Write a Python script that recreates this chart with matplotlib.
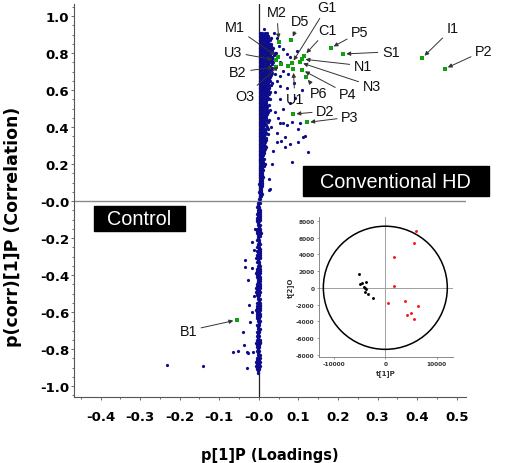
import numpy as np
import matplotlib.pyplot as plt
from matplotlib.patches import Ellipse, Rectangle

plt.rcParams['font.family'] = ['Liberation Sans', 'DejaVu Sans']
plt.rcParams['axes.unicode_minus'] = False

# ---- main loading plot data ----
# dense band, positive side: one y level per row, x values in the row
band_pos_y = [0.91, 0.89, 0.87, 0.85, 0.83, 0.81, 0.79, 0.77, 0.75, 0.73, 0.71, 0.69,
              0.67, 0.65, 0.63, 0.61, 0.59, 0.57, 0.55, 0.53, 0.51, 0.49, 0.47, 0.45,
              0.43, 0.41, 0.39, 0.37, 0.35, 0.33, 0.31, 0.29, 0.27, 0.25, 0.23, 0.21,
              0.19, 0.17, 0.15, 0.13, 0.11, 0.09, 0.07, 0.05, 0.03, 0.01]
band_pos_x = [
    [0.004, 0.009, 0.016],
    [0.002, 0.007, 0.012, 0.018, 0.024],
    [0.003, 0.008, 0.014, 0.020, 0.027],
    [0.002, 0.007, 0.013, 0.019, 0.025, 0.031],
    [0.003, 0.009, 0.015, 0.021, 0.028, 0.036],
    [0.002, 0.008, 0.013, 0.019, 0.025, 0.032],
    [0.003, 0.009, 0.015, 0.022, 0.029, 0.037],
    [0.002, 0.007, 0.013, 0.019, 0.026, 0.033],
    [0.003, 0.008, 0.014, 0.021, 0.028, 0.035],
    [0.002, 0.008, 0.014, 0.020, 0.027, 0.040],
    [0.003, 0.009, 0.015, 0.022, 0.030],
    [0.002, 0.007, 0.013, 0.019, 0.026, 0.034],
    [0.003, 0.008, 0.014, 0.021, 0.029],
    [0.002, 0.008, 0.014, 0.020, 0.027],
    [0.003, 0.009, 0.015, 0.022, 0.031],
    [0.002, 0.007, 0.013, 0.019, 0.025],
    [0.003, 0.008, 0.014, 0.021, 0.028],
    [0.002, 0.008, 0.014, 0.020],
    [0.003, 0.009, 0.015, 0.022, 0.029],
    [0.002, 0.007, 0.013, 0.019],
    [0.003, 0.008, 0.014, 0.021],
    [0.002, 0.008, 0.014, 0.020, 0.027],
    [0.003, 0.009, 0.015, 0.021],
    [0.002, 0.007, 0.013, 0.019],
    [0.003, 0.008, 0.014, 0.022],
    [0.002, 0.008, 0.013, 0.018],
    [0.003, 0.009, 0.015, 0.024],
    [0.002, 0.007, 0.012, 0.018],
    [0.003, 0.008, 0.014],
    [0.002, 0.007, 0.012, 0.019],
    [0.003, 0.008, 0.013],
    [0.002, 0.007, 0.012, 0.017],
    [0.003, 0.008, 0.013],
    [0.002, 0.006, 0.011],
    [0.003, 0.007, 0.012],
    [0.002, 0.006, 0.010],
    [0.003, 0.007, 0.013],
    [0.002, 0.006, 0.010],
    [0.003, 0.007],
    [0.002, 0.006, 0.011],
    [0.003, 0.007],
    [0.001, 0.005, 0.009],
    [0.002, 0.006],
    [0.001, 0.005],
    [0.002, 0.005],
    [0.001, 0.004],
]
# second, interleaved set of rows of the same band
band_pos_y2 = [0.90, 0.88, 0.86, 0.84, 0.82, 0.80, 0.78, 0.76, 0.74, 0.72, 0.70, 0.68,
               0.66, 0.64, 0.62, 0.60, 0.58, 0.56, 0.54, 0.52, 0.50, 0.48, 0.46, 0.44,
               0.42, 0.40, 0.38, 0.36, 0.34, 0.32, 0.30, 0.28, 0.26, 0.24, 0.22, 0.20,
               0.18, 0.16, 0.14, 0.12, 0.10, 0.08, 0.06, 0.04, 0.02]
band_pos_x2 = [
    [0.006, 0.012, 0.020],
    [0.005, 0.010, 0.016, 0.022, 0.030],
    [0.005, 0.011, 0.017, 0.024],
    [0.005, 0.011, 0.017, 0.023, 0.030],
    [0.006, 0.012, 0.018, 0.025, 0.032],
    [0.005, 0.011, 0.017, 0.023, 0.029, 0.041],
    [0.005, 0.012, 0.018, 0.025, 0.033],
    [0.006, 0.011, 0.017, 0.024, 0.031],
    [0.005, 0.011, 0.017, 0.024, 0.032],
    [0.005, 0.012, 0.018, 0.025, 0.034],
    [0.006, 0.012, 0.018, 0.026],
    [0.005, 0.011, 0.017, 0.024, 0.031],
    [0.005, 0.011, 0.017, 0.025],
    [0.006, 0.012, 0.018, 0.024, 0.033],
    [0.005, 0.011, 0.017, 0.026],
    [0.005, 0.011, 0.017, 0.023],
    [0.006, 0.012, 0.018, 0.025],
    [0.005, 0.011, 0.017, 0.024],
    [0.005, 0.011, 0.017],
    [0.006, 0.012, 0.018, 0.026],
    [0.005, 0.011, 0.017],
    [0.005, 0.011, 0.017, 0.023],
    [0.006, 0.012, 0.018],
    [0.005, 0.011, 0.017, 0.025],
    [0.005, 0.011, 0.016],
    [0.006, 0.011, 0.020],
    [0.005, 0.010, 0.015],
    [0.005, 0.010, 0.016, 0.022],
    [0.005, 0.011, 0.017],
    [0.005, 0.010, 0.015],
    [0.005, 0.010, 0.016],
    [0.005, 0.010, 0.015],
    [0.004, 0.009, 0.014],
    [0.005, 0.009],
    [0.004, 0.009],
    [0.005, 0.009, 0.016],
    [0.004, 0.008],
    [0.005, 0.009],
    [0.004, 0.008],
    [0.005, 0.009],
    [0.003, 0.007],
    [0.004, 0.008],
    [0.003, 0.006],
    [0.003, 0.007],
    [0.003],
]

# dense band, negative side
band_neg_y = [-0.01, -0.03, -0.05, -0.07, -0.09, -0.11, -0.13, -0.15, -0.17, -0.19,
              -0.21, -0.23, -0.25, -0.27, -0.29, -0.31, -0.33, -0.35, -0.37, -0.39,
              -0.41, -0.43, -0.45, -0.47, -0.49, -0.51, -0.53, -0.55, -0.57, -0.59,
              -0.61, -0.63, -0.65, -0.67, -0.69, -0.71, -0.73, -0.75, -0.77, -0.79,
              -0.81, -0.83, -0.85, -0.87, -0.89, -0.91, -0.93]
band_neg_x = [
    [-0.003, 0.002], [-0.004, 0.001], [-0.003, 0.002], [-0.005, 0.000, 0.004],
    [-0.006, -0.001, 0.004], [-0.004, 0.001], [-0.003, 0.002], [-0.006, -0.001, 0.004],
    [-0.005, 0.000, 0.005], [-0.003, 0.002], [-0.004, 0.001], [-0.003, 0.002],
    [-0.004, 0.001], [-0.005, 0.000, 0.004], [-0.006, -0.001, 0.004], [-0.003, 0.002],
    [-0.004, 0.001], [-0.003, 0.002], [-0.006, -0.001, 0.004], [-0.007, -0.002, 0.003],
    [-0.005, 0.000, 0.004], [-0.003, 0.002], [-0.006, -0.001, 0.004], [-0.007, -0.002, 0.003],
    [-0.008, -0.003, 0.002], [-0.004, 0.001], [-0.003, 0.002], [-0.005, 0.000, 0.004],
    [-0.006, -0.001, 0.004], [-0.007, -0.002, 0.003], [-0.006, -0.001, 0.004], [-0.004, 0.001],
    [-0.003, 0.002], [-0.004, 0.001], [-0.003, 0.002], [-0.005, 0.000],
    [-0.004, 0.001], [-0.006, -0.001, 0.004], [-0.007, -0.002, 0.003], [-0.005, 0.000],
    [-0.004, 0.001], [-0.003, 0.002], [-0.006, -0.001, 0.003], [-0.007, -0.002, 0.003],
    [-0.008, -0.003, 0.002], [-0.005, 0.000], [-0.002],
]
band_neg_y2 = [-0.02, -0.04, -0.06, -0.08, -0.10, -0.12, -0.14, -0.16, -0.18, -0.20,
               -0.22, -0.24, -0.26, -0.28, -0.30, -0.32, -0.34, -0.36, -0.38, -0.40,
               -0.42, -0.44, -0.46, -0.48, -0.50, -0.52, -0.54, -0.56, -0.58, -0.60,
               -0.62, -0.64, -0.66, -0.68, -0.70, -0.72, -0.74, -0.76, -0.78, -0.80,
               -0.82, -0.84, -0.86, -0.88, -0.90, -0.92]
band_neg_x2 = [
    [-0.001], [0.000], [-0.001, 0.004], [-0.003, 0.002], [-0.004, 0.002], [-0.001],
    [0.000], [-0.004, 0.002], [-0.003, 0.003], [-0.001], [0.000], [-0.001],
    [0.000, 0.004], [-0.003, 0.002], [-0.004, 0.002], [-0.001], [0.000], [-0.001],
    [-0.004, 0.002], [-0.005, 0.001], [-0.003, 0.002], [-0.001], [-0.004, 0.002],
    [-0.005, 0.001], [-0.006, 0.000], [-0.001], [0.000], [-0.003, 0.002],
    [-0.004, 0.002], [-0.005, 0.001], [-0.004, 0.002], [-0.001], [0.000], [-0.001],
    [0.000], [-0.002], [-0.001], [-0.004, 0.002], [-0.005, 0.001], [-0.002],
    [-0.001], [0.000], [-0.004, 0.001], [-0.005, 0.001], [-0.006, 0.000], [-0.002],
]

# scattered variables away from the band
scatter_x = [0.013, 0.021, 0.039, 0.051, 0.061, 0.042, 0.095, 0.070, 0.078, 0.053,
             0.061, 0.053, 0.040, 0.074, 0.045, 0.053, 0.070, 0.040, 0.053, 0.078,
             0.091, 0.061, 0.040, 0.049, 0.070, 0.099, 0.116, 0.045, 0.053, 0.045,
             0.061, 0.083, 0.104, 0.111, 0.066, 0.057, 0.078, 0.098, 0.066, 0.124,
             0.083, 0.028, 0.026, 0.035, 0.030, 0.032, 0.025, 0.110, 0.088, 0.046,
             -0.018, -0.012, -0.034, -0.008, -0.035, -0.017, -0.027, -0.012, -0.018, -0.023,
             -0.040, -0.037, -0.031, -0.027, -0.065, -0.054, -0.014, -0.031, -0.232, -0.142,
             -0.024, -0.010]
scatter_y = [0.930, 0.910, 0.908, 0.840, 0.820, 0.800, 0.810, 0.795, 0.777, 0.750,
             0.704, 0.677, 0.686, 0.686, 0.650, 0.620, 0.610, 0.590, 0.550, 0.530,
             0.560, 0.500, 0.480, 0.450, 0.410, 0.390, 0.350, 0.370, 0.420, 0.317,
             0.420, 0.425, 0.420, 0.346, 0.345, 0.326, 0.308, 0.319, 0.292, 0.265,
             0.209, 0.065, 0.060, 0.270, 0.400, 0.200, 0.120, 0.600, 0.640, 0.880,
             -0.223, -0.263, -0.317, -0.310, -0.359, -0.362, -0.427, -0.512, -0.602, -0.656,
             -0.706, -0.778, -0.818, -0.820, -0.818, -0.809, -0.818, -0.900, -0.886, -0.890,
             -0.560, -0.150]

# highlighted (green) variables
green_names = ['M2', 'D5', 'C1', 'N1', 'N3', 'G1', 'U1', 'P4', 'P6', 'M1', 'U3',
               'O3', 'B2', 'P5', 'S1', 'D2', 'P3', 'I1', 'P2', 'B1', '']
green_x = [0.0505, 0.082, 0.114, 0.109, 0.1035, 0.083, 0.087, 0.1085, 0.118, 0.048,
           0.043, 0.0556, 0.044, 0.181, 0.212, 0.086, 0.121, 0.412, 0.469, -0.056, 0.073]
green_y = [0.861, 0.872, 0.786, 0.768, 0.750, 0.744, 0.712, 0.710, 0.670, 0.778,
           0.762, 0.740, 0.726, 0.827, 0.795, 0.470, 0.425, 0.773, 0.715, -0.643, 0.730]
# where each label text sits
label_x = [0.045, 0.1035, 0.174, 0.263, 0.285, 0.171, 0.091, 0.225, 0.152, -0.061,
           -0.066, -0.035, -0.053, 0.255, 0.333, 0.168, 0.230, 0.489, 0.568, -0.1785, None]
label_y = [1.02, 0.975, 0.926, 0.731, 0.622, 1.047, 0.551, 0.578, 0.584, 0.941,
           0.805, 0.568, 0.697, 0.914, 0.807, 0.486, 0.454, 0.934, 0.812, -0.701, None]

x_ticks = [-0.4, -0.3, -0.2, -0.1, 0.0, 0.1, 0.2, 0.3, 0.4, 0.5]
x_ticklabels = ['-0.4', '-0.3', '-0.2', '-0.1', '-0.0', '0.1', '0.2', '0.3', '0.4', '0.5']
y_ticks = [-1.0, -0.8, -0.6, -0.4, -0.2, 0.0, 0.2, 0.4, 0.6, 0.8, 1.0]
y_ticklabels = ['-1.0', '-0.8', '-0.6', '-0.4', '-0.2', '-0.0', '0.2', '0.4', '0.6', '0.8', '1.0']

# ---- inset score plot data ----
hd_t1 = [5970, 5650, 1750, 1690, 450, 3830, 6430, 5060, 4220, 5580]
hd_t2 = [6720, 5360, 3640, 200, -1800, -1520, -2160, -3000, -3240, -3720]
ctrl_t1 = [-5190, -4935, -4545, -3766, -4156, -3900, -3700, -4026, -3311, -2400]
ctrl_t2 = [1600, 480, 520, 680, 120, -80, -160, -560, -760, -1280]

# flatten the band rows
bx, by = [], []
for yv, row in zip(band_pos_y + band_pos_y2 + band_neg_y + band_neg_y2,
                   band_pos_x + band_pos_x2 + band_neg_x + band_neg_x2):
    bx += row
    by += [yv] * len(row)

fig = plt.figure(figsize=(5.12, 4.64), dpi=100)
ax = fig.add_axes([0.1445, 0.142, 0.7656, 0.847])

ax.axvline(0, color='#222222', lw=0.9, zorder=1)
ax.axhline(0, color='#8a8a8a', lw=1.0, zorder=1)

blue = '#0c0c8c'
ax.plot(bx, by, 'o', color=blue, ms=2.4, mew=0, zorder=2)
ax.plot(scatter_x, scatter_y, 'o', color=blue, ms=2.3, mew=0, zorder=2)
ax.plot(green_x, green_y, 's', color='#12a012', ms=3.0, mew=0, zorder=4)

for name, gx, gy, tx, ty in zip(green_names, green_x, green_y, label_x, label_y):
    if not name:
        continue
    ax.annotate(name, xy=(gx, gy), xytext=(tx, ty), ha='center', va='center',
                fontsize=10.4, color='#111111', zorder=5, annotation_clip=False,
                arrowprops=dict(arrowstyle='-|>', color='#333333', lw=0.7,
                                mutation_scale=6, shrinkA=1, shrinkB=2.5))

# group boxes
ax.add_patch(Rectangle((0.111, 0.027), 0.470, 0.162, color='black', zorder=3,
                       clip_on=False))
ax.text(0.346, 0.108, 'Conventional HD', color='white', fontsize=14.3,
        ha='center', va='center', zorder=4, clip_on=False)
ax.add_patch(Rectangle((-0.417, -0.162), 0.230, 0.135, color='black', zorder=3))
ax.text(-0.302, -0.094, 'Control', color='white', fontsize=14.3,
        ha='center', va='center', zorder=4)

ax.set_xlim(-0.467, 0.523)
ax.set_ylim(-1.06, 1.065)
for s in ['top', 'right']:
    ax.spines[s].set_visible(False)
for s in ['left', 'bottom']:
    ax.spines[s].set_color('#555555')
    ax.spines[s].set_linewidth(0.8)

ax.set_xticks(x_ticks)
ax.set_xticklabels(x_ticklabels)
ax.set_yticks(y_ticks)
ax.set_yticklabels(y_ticklabels)
ax.set_xticks(np.arange(-0.45, 0.52, 0.05), minor=True)
ax.set_yticks(np.arange(-1.05, 1.06, 0.05), minor=True)
ax.tick_params(axis='both', which='major', length=2.5, width=0.6, color='#555555')
ax.tick_params(axis='both', which='minor', length=1.5, width=0.6, color='#555555')
ax.tick_params(axis='x', pad=6.5)
ax.tick_params(axis='y', pad=1)
for lab in ax.get_xticklabels() + ax.get_yticklabels():
    lab.set_fontfamily('DejaVu Sans')
    lab.set_fontweight('bold')
    lab.set_fontsize(9.5)

ax.set_xlabel('p[1]P (Loadings)', fontfamily='DejaVu Sans', fontweight='bold', fontsize=10.5)
ax.set_ylabel('p(corr)[1]P (Correlation)', fontfamily='DejaVu Sans', fontweight='bold',
              fontsize=12.5)
ax.xaxis.set_label_coords(0.5, -0.127)
ax.yaxis.set_label_coords(-0.133, 0.435)

# ---- inset ----
ins = fig.add_axes([0.623, 0.2278, 0.2617, 0.3024])
ins.axvline(0, color='#a0a0a0', lw=0.7, zorder=1)
ins.axhline(0, color='#a0a0a0', lw=0.7, zorder=1)
ins.add_patch(Ellipse((0, 0), 24100, 14700, fill=False, ec='black', lw=1.1, zorder=2))
ins.plot(hd_t1, hd_t2, 'o', color='#ff1010', ms=2.1, mew=0, zorder=3)
ins.plot(ctrl_t1, ctrl_t2, 'o', color='black', ms=2.1, mew=0, zorder=3)
ins.set_xlim(-12900, 13150)
ins.set_ylim(-8300, 8450)
for s in ['top', 'right']:
    ins.spines[s].set_visible(False)
for s in ['left', 'bottom']:
    ins.spines[s].set_color('#777777')
    ins.spines[s].set_linewidth(0.6)
ins.set_xticks([-10000, 0, 10000])
ins.set_yticks([-8000, -6000, -4000, -2000, 0, 2000, 4000, 6000, 8000])
ins.tick_params(length=1.5, width=0.5, color='#777777', pad=1.5, labelsize=4.2,
                labelcolor='#333333')
for lab in ins.get_xticklabels() + ins.get_yticklabels():
    lab.set_fontfamily('DejaVu Sans')
    lab.set_fontweight('bold')
ins.set_xlabel('t[1]P', fontfamily='DejaVu Sans', fontweight='bold', fontsize=5,
               color='#333333', labelpad=2)
ins.set_ylabel('t[2]O', fontfamily='DejaVu Sans', fontweight='bold', fontsize=5,
               color='#333333', labelpad=2)

fig.savefig('out.png', dpi=100)
